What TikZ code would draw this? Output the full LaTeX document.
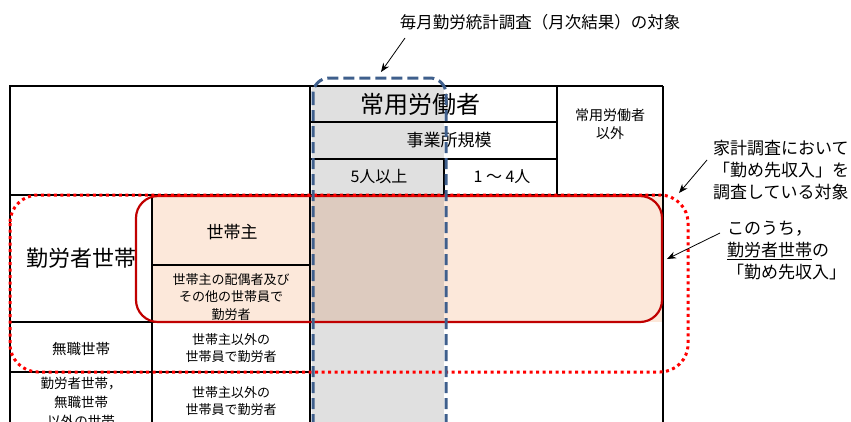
\documentclass[tikz,border=0pt]{standalone}
\usepackage{fontspec}
\setmainfont{Noto Sans CJK JP}
\usetikzlibrary{calc, positioning, arrows.meta}
\definecolor{peach}{HTML}{FCE8DA}
\definecolor{darkred}{HTML}{C00000}
\definecolor{slateblue}{HTML}{3F5F8C}

\begin{document}
\begin{tikzpicture}[x=1pt, y=-1pt,
  tabline/.style={line width=1.6pt},
  cell/.style={font=\fontsize{13}{17.5}\selectfont, align=center, inner sep=0pt},
  note/.style={font=\fontsize{17}{22}\selectfont, align=left, inner sep=0pt, anchor=north west},
  pointer/.style={-{Stealth[length=9pt,width=7pt]}, line width=0.8pt}]
  \clip (0,0) rectangle (851,421);

  % Fills
  \fill[peach] (152,195) rectangle (663,322);
  \fill[black, opacity=0.12] (312,86) rectangle (444,440);

  % Table
  \draw[tabline] (10,440) -- (10,86) -- (663,86);
  \draw[line width=2.4pt] (663,86) -- (663,440);
  \draw[tabline] (310,86) -- (310,440);
  \draw[tabline] (557,86) -- (557,195);
  \draw[tabline] (310,122) -- (557,122);
  \draw[tabline] (310,159) -- (557,159);
  \draw[tabline] (444,159) -- (444,195);
  \draw[tabline] (10,195) -- (663,195);
  \draw[tabline] (152,195) -- (152,440);
  \draw[tabline] (152,265) -- (310,265);
  \draw[tabline] (10,322) -- (310,322);
  \draw[tabline] (10,372) -- (310,372);

  % Header
  \node[cell, font=\fontsize{24}{28}\selectfont] (joyo) at (420,104) {常用労働者};
  \node[cell, font=\fontsize{17}{20}\selectfont] (kibo) at (449,140) {事業所規模};
  \node[cell, font=\fontsize{16}{20}\selectfont] (ijo) at (379,177) {5人以上};
  \node[cell, font=\fontsize{16}{20}\selectfont] (shokibo) at (502,177) {1 ～ 4人};
  \node[cell, font=\fontsize{14}{18}\selectfont] (igai) at (610,124) {常用労働者\\以外};

  % Rows
  \node[cell, font=\fontsize{22}{26}\selectfont] (kinrou) at (81,258) {勤労者世帯};
  \node[cell, font=\fontsize{17}{20}\selectfont] (nushi) at (232,232) {世帯主};
  \node[cell] (haigu) at (231,297) {世帯主の配偶者及び\\その他の世帯員で\\勤労者};
  \node[cell, font=\fontsize{14.5}{18}\selectfont] (mushoku) at (81,349) {無職世帯};
  \node[cell] (inmushoku) at (231,348) {世帯主以外の\\世帯員で勤労者};
  \node[cell, font=\fontsize{13.5}{19}\selectfont] (sonota) at (81,402) {勤労者世帯，\\無職世帯\\以外の世帯};
  \node[cell] (insonota) at (231,401) {世帯主以外の\\世帯員で勤労者};

  % Outlines
  \draw[darkred, line width=2.2pt, rounded corners=22pt] (136,196) rectangle (662,322);
  \draw[red, line width=3pt, dash pattern=on 3pt off 3.5pt, rounded corners=28pt] (10,195) rectangle (688,372);
  \draw[slateblue, line width=3pt, dash pattern=on 11pt off 5pt, rounded corners=16pt] (313,78) rectangle (446,440);

  % Notes
  \node[cell, font=\fontsize{16.5}{20}\selectfont] (maigetsu) at (540,22) {毎月勤労統計調査（月次結果）の対象};
  \coordinate (maitail) at (405,38);
  \coordinate (maitip) at (381,72);
  \draw[pointer] (maitail) -- (maitip);

  \node[note] (kakei) at (713,140) {家計調査において\\「勤め先収入」を\\調査している対象};
  \coordinate (kakeitail) at (707,160);
  \coordinate (kakeitip) at (679,193);
  \draw[pointer] (kakeitail) -- (kakeitip);

  \node[note] (uchi) at (727,221) {このうち，\\\underline{勤労者世帯}の\\「勤め先収入」};
  \coordinate (uchitail) at (720,233);
  \coordinate (uchitip) at (667,259);
  \draw[pointer] (uchitail) -- (uchitip);
\end{tikzpicture}
\end{document}
